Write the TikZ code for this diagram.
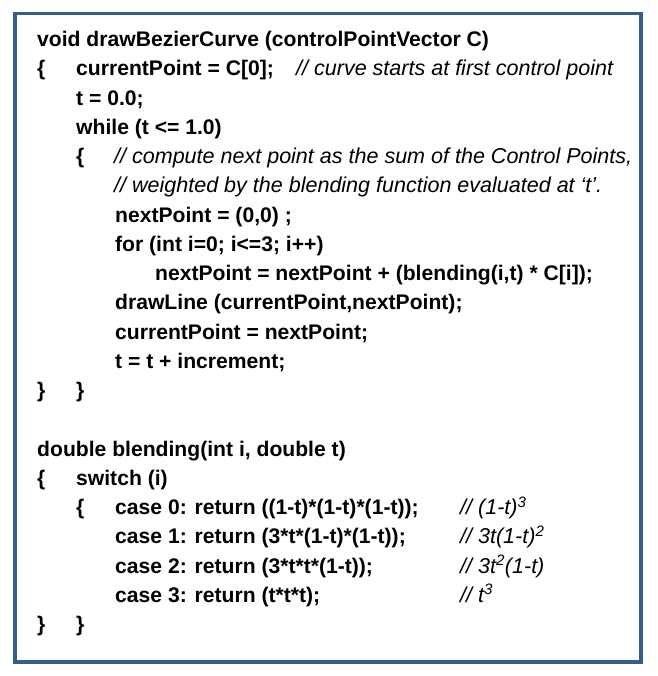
\documentclass[tikz,border=0pt]{standalone}
\usepackage{fontspec}
\setmainfont{Liberation Sans}
\definecolor{framecol}{HTML}{385D8A}

\begin{document}
\begin{tikzpicture}[x=1bp,y=-1bp,
    codeline/.style={anchor=base west,inner sep=0pt,font=\fontsize{21.2}{25}\selectfont\bfseries},
    cmtline/.style={anchor=base west,inner sep=0pt,font=\fontsize{21.6}{25}\selectfont\itshape}]
  \useasboundingbox (0,0) rectangle (658,676);
  \draw[framecol,line width=3.5bp,fill=white] (15,13.3) rectangle (641,662);
  % drawBezierCurve
  \draw
    (37,46.7) node[codeline] (sig){void drawBezierCurve (controlPointVector C)}
    (37,75.9) node[codeline] (brace1){\{}
    (76,75.9) node[codeline] (curpt){currentPoint = C[0];}
    (296,75.9) node[cmtline] (cmtstart){// curve starts at first control point}
    (76,105.2) node[codeline] (tinit){t = 0.0;}
    (76,134.4) node[codeline] (whileloop){while (t <= 1.0)}
    (76,163.7) node[codeline] (brace2){\{}
    (114,163.7) node[cmtline] (cmtsum){// compute next point as the sum of the Control Points,}
    (114,192.9) node[cmtline] (cmtweight){// weighted by the blending function evaluated at ‘t’.}
    (115,222.2) node[codeline] (nextinit){nextPoint = (0,0) ;}
    (115,251.4) node[codeline] (forloop){for (int i=0; i<=3; i++)}
    (155,280.7) node[codeline] (nextsum){nextPoint = nextPoint + (blending(i,t) * C[i]);}
    (115,309.9) node[codeline] (drawline){drawLine (currentPoint,nextPoint);}
    (115,339.2) node[codeline] (curupd){currentPoint = nextPoint;}
    (115,368.4) node[codeline] (tinc){t = t + increment;}
    (37,397.7) node[codeline] (close1a){\}}
    (76,397.7) node[codeline] (close1b){\}};
  % blending
  \draw
    (37,456.2) node[codeline] (blendsig){double blending(int i, double t)}
    (37,485.4) node[codeline] (brace3){\{}
    (76,485.4) node[codeline] (switchi){switch (i)}
    (76,514.7) node[codeline] (brace4){\{}
    (115,514.7) node[codeline] (case0){case 0: return ((1-t)*(1-t)*(1-t));}
    (115,543.9) node[codeline] (case1){case 1: return (3*t*(1-t)*(1-t));}
    (115,573.2) node[codeline] (case2){case 2: return (3*t*t*(1-t));}
    (115,602.4) node[codeline] (case3){case 3: return (t*t*t);}
    (460,514.7) node[cmtline] (cmtc0){// (1-t)\textsuperscript{3}}
    (460,543.9) node[cmtline] (cmtc1){// 3t(1-t)\textsuperscript{2}}
    (460,573.2) node[cmtline] (cmtc2){// 3t\textsuperscript{2}(1-t)}
    (460,602.4) node[cmtline] (cmtc3){// t\textsuperscript{3}}
    (37,631.7) node[codeline] (close2a){\}}
    (76,631.7) node[codeline] (close2b){\}};
\end{tikzpicture}
\end{document}
